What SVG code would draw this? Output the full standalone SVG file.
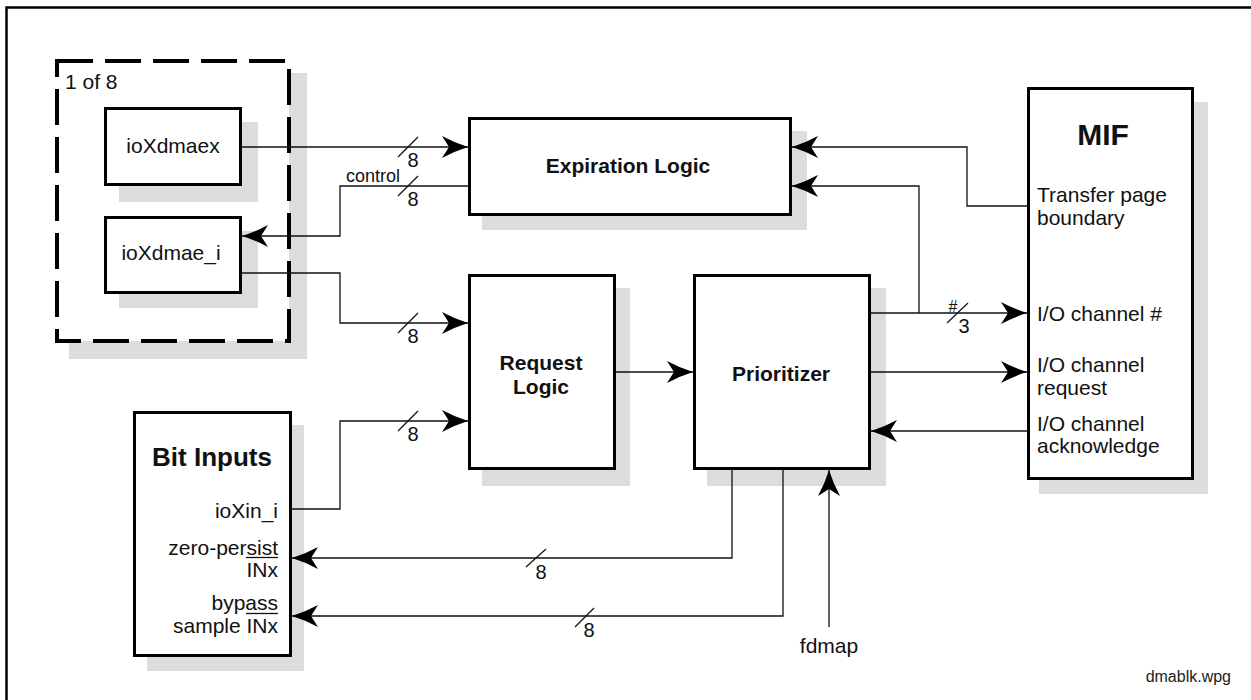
<svg xmlns="http://www.w3.org/2000/svg" width="1251" height="700" viewBox="0 0 1251 700">
  <defs>
    <style>
      .frame { fill: none; stroke: #000; stroke-width: 2.5; }
      .box { fill: #fff; stroke: #000; stroke-width: 3; }
      .shadow { fill: #dcdcdc; stroke: none; }
      .dashbox { fill: #fff; stroke: #000; stroke-width: 4; stroke-dasharray: 36 12; }
      .wire { fill: none; stroke: #111; stroke-width: 1.3; }
      .arrow { marker-end: url(#ah); }
      .tick { stroke: #111; stroke-width: 1.2; }
      text { font-family: "Liberation Sans", Arial, Helvetica, sans-serif; fill: #111; }
      .lbl { font-size: 21px; }
      .sm { font-size: 18px; }
      .num { font-size: 20px; text-anchor: middle; }
      .title { font-size: 21px; font-weight: bold; text-anchor: middle; }
      .mid { text-anchor: middle; }
      .end { text-anchor: end; }
      .bar { stroke: #111; stroke-width: 1.3; }
    </style>
    <marker id="ah" markerUnits="userSpaceOnUse" markerWidth="30" markerHeight="26" viewBox="0 0 30 26" refX="28" refY="13" orient="auto">
      <path d="M28,13 Q15,9 2,2 L9,13 L2,24 Q15,17 28,13 Z" fill="#000"/>
    </marker>
  </defs>

  <rect width="1251" height="700" fill="#fff"/>
  <!-- page frame (runs off the right and bottom edges) -->
  <rect class="frame" x="6.5" y="7.5" width="1270" height="720"/>

  <!-- replicated channel group -->
  <g id="channel-group">
    <rect class="shadow" x="69" y="73" width="238" height="286"/>
    <rect class="dashbox" x="57" y="61" width="232" height="280"/>
    <text class="lbl" x="65" y="89">1 of 8</text>
  </g>

  <g id="ioXdmaex">
    <rect class="shadow" x="119" y="122" width="139" height="80"/>
    <rect class="box" x="105.5" y="108.5" width="135" height="76"/>
    <text class="lbl mid" x="173" y="153">ioXdmaex</text>
  </g>

  <g id="ioXdmae_i">
    <rect class="shadow" x="119" y="231" width="139" height="77"/>
    <rect class="box" x="105.5" y="217.5" width="135" height="75"/>
    <text class="lbl mid" x="171" y="260">ioXdmae_i</text>
  </g>

  <g id="expiration-logic">
    <rect class="shadow" x="482" y="131" width="325" height="99"/>
    <rect class="box" x="469.5" y="118.5" width="321" height="96"/>
    <text class="title" x="628" y="173">Expiration Logic</text>
  </g>

  <g id="request-logic">
    <rect class="shadow" x="482" y="288" width="148" height="198"/>
    <rect class="box" x="469.5" y="275.5" width="145" height="193"/>
    <text class="title" x="541" y="370">Request</text>
    <text class="title" x="541" y="394">Logic</text>
  </g>

  <g id="prioritizer">
    <rect class="shadow" x="707" y="288" width="179" height="198"/>
    <rect class="box" x="694.5" y="275.5" width="175" height="193"/>
    <text class="title" x="781" y="381">Prioritizer</text>
  </g>

  <g id="mif">
    <rect class="shadow" x="1039" y="102" width="169" height="392"/>
    <rect class="box" x="1028.5" y="88.5" width="164" height="390"/>
    <text class="title" x="1103" y="145" style="font-size:30px">MIF</text>
    <text class="lbl" x="1037" y="202">Transfer page</text>
    <text class="lbl" x="1037" y="225">boundary</text>
    <text class="lbl" x="1037" y="321">I/O channel #</text>
    <text class="lbl" x="1037" y="372">I/O channel</text>
    <text class="lbl" x="1037" y="395">request</text>
    <text class="lbl" x="1037" y="431">I/O channel</text>
    <text class="lbl" x="1037" y="453">acknowledge</text>
  </g>

  <g id="bit-inputs">
    <rect class="shadow" x="147" y="425" width="157" height="246"/>
    <rect class="box" x="134.5" y="412.5" width="156" height="243"/>
    <text class="title" x="212" y="466" style="font-size:26px">Bit Inputs</text>
    <text class="lbl end" x="278" y="518">ioXin_i</text>
    <text class="lbl end" x="278" y="555">zero-persist</text>
    <line class="bar" x1="246" y1="557.5" x2="278" y2="557.5"/>
    <text class="lbl end" x="278" y="577">INx</text>
    <text class="lbl end" x="278" y="610">bypass</text>
    <line class="bar" x1="246" y1="613.5" x2="278" y2="613.5"/>
    <text class="lbl end" x="278" y="633">sample INx</text>
  </g>

  <!-- signal wiring -->
  <g id="connectors">
    <path class="wire arrow" d="M242,147 H468"/>
    <path class="wire arrow" d="M468,186 H340 V236 H242"/>
    <path class="wire arrow" d="M242,273 H340 V323 H468"/>
    <path class="wire arrow" d="M292,509 H340 V421 H468"/>
    <path class="wire arrow" d="M616,372 H693"/>
    <path class="wire arrow" d="M871,313 H1027"/>
    <path class="wire arrow" d="M919,313 V186 H792"/>
    <path class="wire arrow" d="M1027,206 H967 V147 H792"/>
    <path class="wire arrow" d="M871,372 H1027"/>
    <path class="wire arrow" d="M1027,431 H871"/>
    <path class="wire arrow" d="M732,470 V558 H292"/>
    <path class="wire arrow" d="M783,470 V616 H292"/>
    <path class="wire arrow" d="M829,627 V470"/>

    <!-- bus width ticks -->
    <line class="tick" x1="398" y1="157" x2="418" y2="137"/>
    <text class="num" x="413" y="167">8</text>
    <text class="sm" x="346" y="182">control</text>
    <line class="tick" x1="398" y1="196" x2="418" y2="176"/>
    <text class="num" x="413" y="206">8</text>
    <line class="tick" x1="398" y1="333" x2="418" y2="313"/>
    <text class="num" x="413" y="343">8</text>
    <line class="tick" x1="398" y1="431" x2="418" y2="411"/>
    <text class="num" x="413" y="441">8</text>
    <line class="tick" x1="526" y1="567" x2="546" y2="549"/>
    <text class="num" x="541" y="579">8</text>
    <line class="tick" x1="575" y1="627" x2="594" y2="608"/>
    <text class="num" x="589" y="637">8</text>
    <line class="tick" x1="947" y1="323" x2="968" y2="303"/>
    <text class="mid" x="953" y="312" style="font-size:16px">#</text>
    <text class="num" x="964" y="333">3</text>

    <text class="lbl mid" x="829" y="653">fdmap</text>
  </g>

  <text x="1231" y="682" class="end" style="font-size:16px;fill:#222">dmablk.wpg</text>
</svg>
